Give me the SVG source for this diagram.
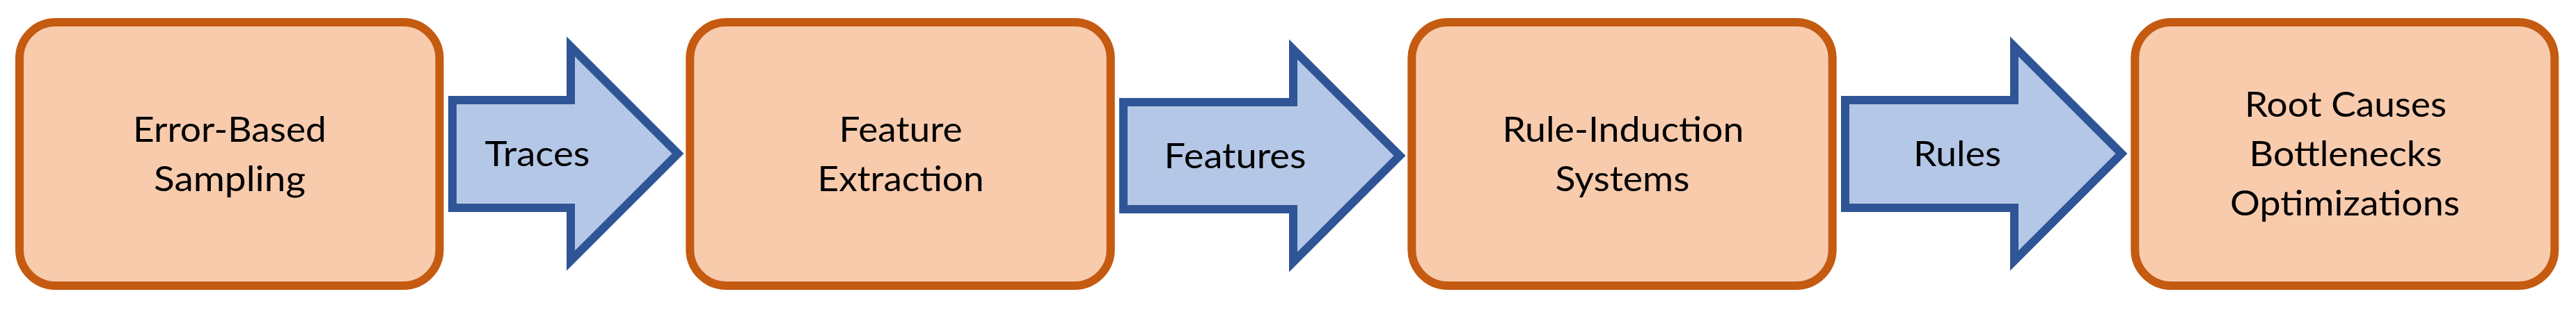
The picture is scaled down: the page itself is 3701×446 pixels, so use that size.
<svg xmlns="http://www.w3.org/2000/svg" width="3701" height="446" viewBox="0 0 3701 446">
<style>
.box{fill:#F8CBAD;stroke:#C55A11;stroke-width:12}
.arrow{fill:#B4C7E7;stroke:#2F5597;stroke-width:12;stroke-miterlimit:10}
text{font-family:Lato,"Open Sans","Liberation Sans",sans-serif;font-size:51px;fill:#000;text-anchor:middle}
</style>
<rect width="3701" height="446" fill="#FFFFFF"/>
<g id="connectors">
<g id="arrow-traces">
<path class="arrow" d="M650,144 H820 V67 L974,221 L820,375 V299 H650 Z"/>
<text x="772" y="239" textLength="151" lengthAdjust="spacingAndGlyphs">Traces</text>
</g>
<g id="arrow-features">
<path class="arrow" d="M1614,147 H1858 V71 L2011,224 L1858,377 V301 H1614 Z"/>
<text x="1774.5" y="242" textLength="204" lengthAdjust="spacingAndGlyphs">Features</text>
</g>
<g id="arrow-rules">
<path class="arrow" d="M2651,144 H2894 V67 L3048,221 L2894,375 V299 H2651 Z"/>
<text x="2812" y="239" textLength="126" lengthAdjust="spacingAndGlyphs">Rules</text>
</g>
</g>
<g id="node-sampling">
<rect class="box" x="28" y="32" width="603.5" height="379" rx="52" ry="52"/>
<text x="330" y="204" textLength="278" lengthAdjust="spacingAndGlyphs">Error-Based</text>
<text x="330" y="275" textLength="218" lengthAdjust="spacingAndGlyphs">Sampling</text>
</g>
<g id="node-extraction">
<rect class="box" x="991.3" y="32" width="604.4" height="379" rx="52" ry="52"/>
<text x="1294" y="204" textLength="177" lengthAdjust="spacingAndGlyphs">Feature</text>
<text x="1294" y="275" textLength="239" lengthAdjust="spacingAndGlyphs">Extraction</text>
</g>
<g id="node-rule-induction">
<rect class="box" x="2028.3" y="32" width="604.4" height="379" rx="52" ry="52"/>
<text x="2332" y="204" textLength="347" lengthAdjust="spacingAndGlyphs">Rule-Induction</text>
<text x="2331" y="275" textLength="193" lengthAdjust="spacingAndGlyphs">Systems</text>
</g>
<g id="node-results">
<rect class="box" x="3067.3" y="32" width="603" height="379" rx="52" ry="52"/>
<text x="3370" y="168" textLength="290" lengthAdjust="spacingAndGlyphs">Root Causes</text>
<text x="3370" y="239" textLength="277" lengthAdjust="spacingAndGlyphs">Bottlenecks</text>
<text x="3369" y="310" textLength="330" lengthAdjust="spacingAndGlyphs">Optimizations</text>
</g>
</svg>
